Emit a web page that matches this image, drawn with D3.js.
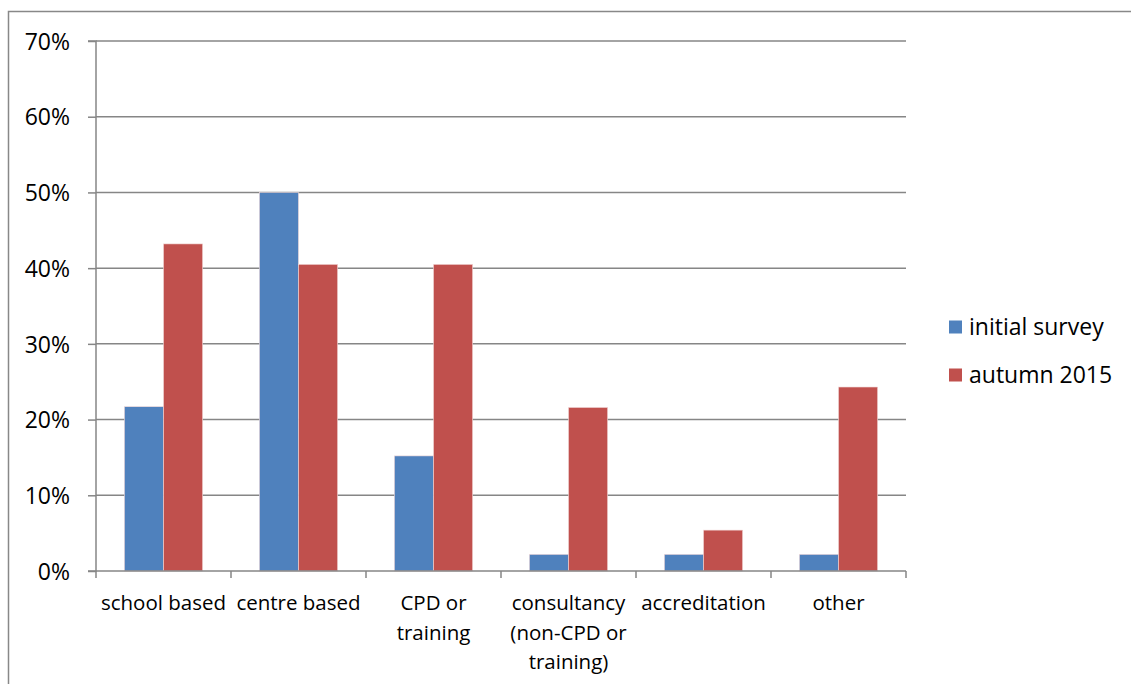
<!DOCTYPE html>
<html><head><meta charset="utf-8">
<script src="https://cdn.jsdelivr.net/npm/d3@7"></script>
<style>body{margin:0;background:#fff;} text{font-family:"Open Sans",sans-serif;fill:#000;}</style>
</head><body>
<svg id="c" width="1131" height="684"></svg>
<script>
const categories = ["school based","centre based","CPD or training","consultancy (non-CPD or training)","accreditation","other"];
const categoryLines = [["school based"],["centre based"],["CPD or","training"],["consultancy","(non-CPD or","training)"],["accreditation"],["other"]];
const seriesNames = ["initial survey","autumn 2015"];
const initialSurvey = [0.217,0.50,0.152,0.022,0.022,0.022];
const autumn2015 = [0.432,0.405,0.405,0.216,0.054,0.243];
const yTicks = [0,0.1,0.2,0.3,0.4,0.5,0.6,0.7];
const colors = ["#4F81BD","#C0504D"];

const svg = d3.select("#c");
svg.append("path").attr("d","M8.5,684 L8.5,11.5 L1131,11.5").attr("fill","none").attr("stroke","#888").attr("stroke-width",1.5);

const L=96,R=906,T=41,B=571;
const x = d3.scaleBand().domain(categories).range([L,R]).paddingInner(0.42).paddingOuter(0.21);
const xs = d3.scaleBand().domain(seriesNames).range([0,x.bandwidth()]);
const y = d3.scaleLinear().domain([0,0.7]).range([B,T]);

svg.append("g").selectAll("line").data(yTicks.slice(1)).join("line")
  .attr("x1",L).attr("x2",R).attr("y1",d=>y(d)).attr("y2",d=>y(d))
  .attr("stroke","#868686").attr("stroke-width",1.5);

const data = categories.map((c,i)=>({c,vals:[initialSurvey[i],autumn2015[i]]}));
const g = svg.append("g");
data.forEach(d=>{
  d.vals.forEach((v,j)=>{
    g.append("rect").attr("x",x(d.c)+xs(seriesNames[j])).attr("y",y(v))
     .attr("width",xs.bandwidth()).attr("height",B-y(v))
     .attr("fill",colors[j]).attr("stroke","#f2d9d9").attr("stroke-width",0.6);
  });
});

const ya = d3.axisLeft(y).tickValues(yTicks).tickFormat(d3.format(".0%")).tickSize(8).tickPadding(18);
const yg = svg.append("g").attr("transform",`translate(${L},0)`).call(ya);
yg.select(".domain").attr("stroke","#868686").attr("stroke-width",1.5).attr("d",`M-8,${T}H0V${B}H-8`);
yg.selectAll(".tick line").attr("stroke","#868686").attr("stroke-width",1.5);
yg.selectAll("text").style("font-size","23px").attr("dy","0.36em").style("font-family","'Open Sans',sans-serif").attr("fill","#000");

const xa = d3.axisBottom(x).tickSize(0).tickFormat("");
const xg = svg.append("g").attr("transform",`translate(0,${B})`).call(xa);
xg.select(".domain").attr("stroke","#868686").attr("stroke-width",1.5).attr("d",`M${L},0H${R}`);
const step = x.step();
const bounds = d3.range(categories.length+1).map(i=>x(categories[0]) - x.paddingOuter()*step + i*step);
xg.selectAll(".bt").data(bounds).join("line").attr("class","bt")
  .attr("x1",d=>d).attr("x2",d=>d).attr("y1",0).attr("y2",7).attr("stroke","#868686").attr("stroke-width",1.5);
categories.forEach((c,i)=>{
  const t = svg.append("text").attr("text-anchor","middle").style("font-size","20.5px");
  categoryLines[i].forEach((ln,k)=>{
    t.append("tspan").attr("x",x(c)+x.bandwidth()/2).attr("y",B+39+k*29.5).text(ln);
  });
});

seriesNames.forEach((s,i)=>{
  const ly = 327 + i*48;
  svg.append("rect").attr("x",949).attr("y",ly-6.5).attr("width",13).attr("height",13).attr("fill",colors[i]);
  svg.append("text").attr("x",969).attr("y",ly).attr("dy","0.36em").style("font-size","23px").text(s);
});
</script>
</body></html>
